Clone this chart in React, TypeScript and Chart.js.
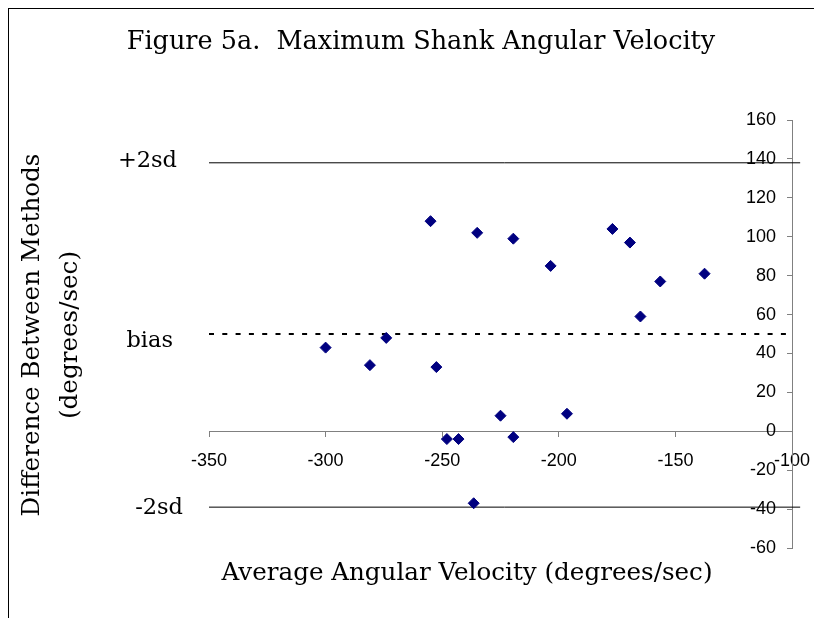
import React, { useEffect, useRef } from 'react';
import { Chart, registerables } from 'chart.js';

Chart.register(...registerables);

// ---- data ----
const pointX = [-300, -281, -274, -255, -252.5, -248, -243, -235, -236.5, -225, -219.5, -219.5, -203.5, -196.5, -177, -169.5, -165, -156.5, -137.5];
const pointY = [43, 34, 48, 108, 33, -4, -4, 102, -37, 8, 99, -3, 85, 9, 104, 97, 59, 77, 81];

const refLabels = ['+2sd', 'bias', '-2sd'];
const refValues = [138, 50, -39];
const refStartX = [-350, -350, -350];
const refEndX = [-96.5, -100, -96.5];

const xMin = -350;
const xMax = -100;
const xStep = 50;
const yMin = -60;
const yMax = 160;
const yStep = 20;

const titleText = 'Figure 5a.  Maximum Shank Angular Velocity';
const yTitleLines = ['Difference Between Methods', '(degrees/sec)'];
const xTitleText = 'Average Angular Velocity (degrees/sec)';

// ---- layout (canvas coordinates) ----
const refLabelLayout = [
  { right: 168, dy: 4 },
  { right: 164, dy: 13 },
  { right: 174, dy: 7 },
];
const SERIF = '"DejaVu Serif", serif';
const Y_LABEL_SHIFT = 16;
const X_LABEL_SHIFT = 4;

const labelShiftPlugin = {
  id: 'labelShift',
  beforeDraw(chart: any) {
    const yItems = chart.scales.y.getLabelItems();
    if (!yItems._shifted) {
      yItems.forEach((it: any) => {
        it.options.translation[0] -= Y_LABEL_SHIFT;
      });
      yItems._shifted = true;
    }
    const xItems = chart.scales.x.getLabelItems();
    if (!xItems._shifted) {
      xItems.forEach((it: any) => {
        it.options.translation[1] += X_LABEL_SHIFT;
      });
      xItems._shifted = true;
    }
  },
};

const textPlugin = {
  id: 'textPlugin',
  afterDraw(chart: any) {
    const ctx = chart.ctx;
    const yScale = chart.scales.y;
    ctx.save();
    ctx.fillStyle = '#000';
    // title
    ctx.font = `25.5px ${SERIF}`;
    ctx.textAlign = 'center';
    ctx.textBaseline = 'alphabetic';
    ctx.fillText(titleText, 412, 40);
    // x title
    ctx.font = `24.6px ${SERIF}`;
    ctx.fillText(xTitleText, 458, 571);
    // sd labels
    ctx.font = `22.5px ${SERIF}`;
    ctx.textAlign = 'right';
    refLabels.forEach((lab, i) => {
      const py = yScale.getPixelForValue(refValues[i]);
      ctx.fillText(lab, refLabelLayout[i].right, py + refLabelLayout[i].dy);
    });
    // y title
    ctx.font = `24.6px ${SERIF}`;
    ctx.translate(0, 326);
    ctx.rotate(-Math.PI / 2);
    ctx.textAlign = 'center';
    ctx.textBaseline = 'middle';
    ctx.fillText(yTitleLines[0], 0, 24);
    ctx.fillText(yTitleLines[1], 0, 62);
    ctx.restore();
  },
};

export default function App() {
  const ref = useRef<HTMLCanvasElement | null>(null);
  useEffect(() => {
    if (!ref.current) return;
    const refDatasets = refLabels.map((lab, i) => ({
      type: 'line' as const,
      label: lab,
      data: [
        { x: refStartX[i], y: refValues[i] },
        { x: refEndX[i], y: refValues[i] },
      ],
      borderColor: '#000',
      borderWidth: i === 1 ? 2 : 1,
      borderDash: i === 1 ? [5, 8.3] : [],
      pointRadius: 0,
      fill: false,
      clip: false as any,
    }));
    const chart = new Chart(ref.current, {
      type: 'scatter',
      data: {
        datasets: [
          {
            label: 'points',
            data: pointX.map((x, i) => ({ x, y: pointY[i] })),
            pointStyle: 'rectRot',
            pointRadius: 5.5,
            pointBackgroundColor: '#000080',
            pointBorderColor: '#000080',
            pointBorderWidth: 1,
          },
          ...refDatasets,
        ] as any,
      },
      options: {
        animation: false,
        responsive: false,
        layout: { padding: { left: 200, right: 30, top: 111, bottom: 70 } },
        plugins: {
          legend: { display: false },
          tooltip: { enabled: false },
          title: { display: false },
        },
        scales: {
          x: {
            type: 'linear',
            position: { y: 0 } as any,
            min: xMin,
            max: xMax,
            ticks: {
              stepSize: xStep,
              color: '#000',
              font: { family: '"Liberation Sans", Arial, sans-serif', size: 18 },
              padding: 10,
              maxRotation: 0,
            },
            grid: { drawOnChartArea: false, tickLength: 5, color: '#808080' },
            border: { color: '#808080', width: 1 },
          },
          y: {
            type: 'linear',
            position: { x: -100 } as any,
            min: yMin,
            max: yMax,
            ticks: {
              stepSize: yStep,
              color: '#000',
              font: { family: '"Liberation Sans", Arial, sans-serif', size: 18 },
              padding: 10,
            },
            grid: { drawOnChartArea: false, tickLength: 5, color: '#808080' },
            border: { color: '#808080', width: 1 },
          },
        },
      },
      plugins: [labelShiftPlugin, textPlugin],
    });
    return () => chart.destroy();
  }, []);
  return (
    <div
      style={{
        width: 814,
        height: 610,
        borderTop: '1px solid #000',
        borderLeft: '1px solid #000',
        boxSizing: 'border-box',
        overflow: 'hidden',
        background: '#fff',
      }}
    >
      <canvas ref={ref} width={813} height={609} style={{ display: 'block' }} />
    </div>
  );
}
